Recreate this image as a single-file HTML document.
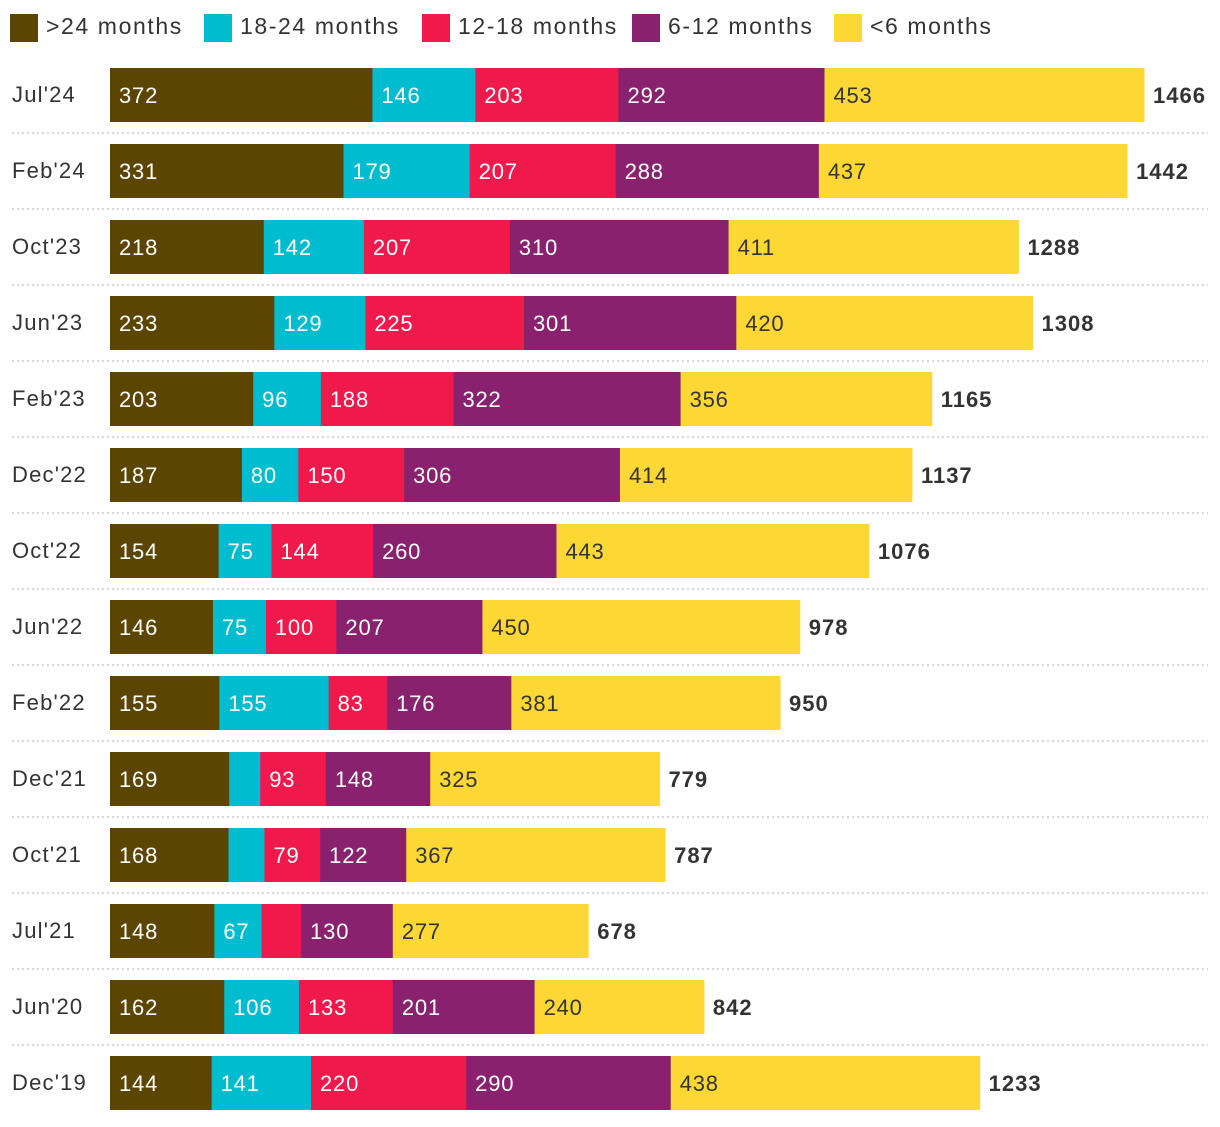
<!DOCTYPE html>
<html><head><meta charset="utf-8"><style>
body{margin:0;background:#fff;width:1220px;height:1122px;overflow:hidden;font-family:"Liberation Sans",sans-serif}
</style></head><body>
<svg id="c" width="1220" height="1122" font-family="Liberation Sans, sans-serif"></svg>
<script>
const categories=["Jul'24","Feb'24","Oct'23","Jun'23","Feb'23","Dec'22","Oct'22","Jun'22","Feb'22","Dec'21","Oct'21","Jul'21","Jun'20","Dec'19"];
const seriesNames=[">24 months","18-24 months","12-18 months","6-12 months","<6 months"];
const s24=[372,331,218,233,203,187,154,146,155,169,168,148,162,144];
const s18=[146,179,142,129,96,80,75,75,155,44,51,67,106,141];
const s12=[203,207,207,225,188,150,144,100,83,93,79,56,133,220];
const s6=[292,288,310,301,322,306,260,207,176,148,122,130,201,290];
const s0=[453,437,411,420,356,414,443,450,381,325,367,277,240,438];
const totals=[1466,1442,1288,1308,1165,1137,1076,978,950,779,787,678,842,1233];
const colors=["#5c4500","#00bccf","#ef1a4b","#8a216e","#fdd835"];
const series=[s24,s18,s12,s6,s0];
const svg=document.getElementById('c');const NS="http://www.w3.org/2000/svg";
const x0=110,k=(1144-110)/1466;
const xs=v=>v*k;
const rowY=i=>68+i*76;
function mk(t,a,p){const e=document.createElementNS(NS,t);for(const n in a)e.setAttribute(n,a[n]);(p||svg).appendChild(e);return e;}
const legX=[10,204,422,632,834];
seriesNames.forEach((n,j)=>{
 const g=mk('g',{});
 
 
 mk('rect',{x:legX[j],y:14,width:28,height:28,fill:colors[j]},g);
 const t=mk('text',{x:legX[j]+36,y:34,'font-size':23,'letter-spacing':1.6,fill:'#333'},g);t.textContent=n;
});
categories.forEach((c,i)=>{
 const y=rowY(i);
 const l=mk('text',{x:12,y:y+34,'font-size':22,'letter-spacing':1.2,fill:'#333'});l.textContent=c;
 
 
 if(i<categories.length-1){const d=mk('line',{x1:12,x2:1208,y1:y+65,y2:y+65,stroke:'#ccc','stroke-width':1.5,'stroke-dasharray':'2,3'});
 
 }
 let cum=0;
 series.forEach((s,j)=>{
  const v=s[i];const x=x0+xs(cum);const w=xs(v);
  const r=mk('rect',{x:x,y:y,width:w+0.5,height:54,fill:colors[j]});
  
  
  if(v>=60){const t=mk('text',{x:x+9,y:y+35,'font-size':22,'letter-spacing':0.8,fill:j==4?'#333':'#fff'});t.textContent=v;
   
   }
  cum+=v;
 });
 const tt=mk('text',{x:x0+xs(totals[i])+9,y:y+35,'font-size':22,'font-weight':'bold','letter-spacing':1,fill:'#333'});tt.textContent=totals[i];
 
 
});
</script>
</body></html>
